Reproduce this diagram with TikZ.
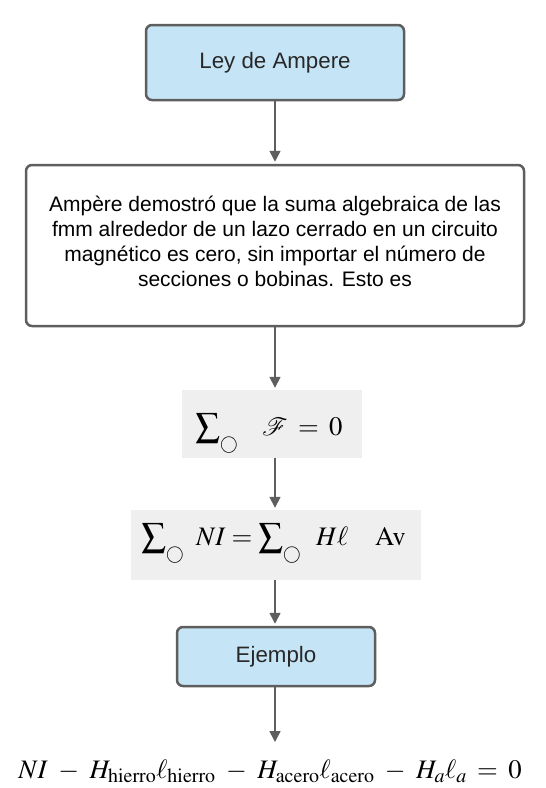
\documentclass[tikz,border=0pt]{standalone}
\usepackage{graphicx}
\usepackage{mathptmx}
\usepackage{mathrsfs}
\usepackage[no-math]{fontspec}
\setmainfont{Liberation Sans}
\usetikzlibrary{arrows.meta}
\DeclareMathSizes{26.7}{26.7}{20}{15}
\newcommand{\finops}{\medmuskip=7mu\relax\thickmuskip=7mu\relax}
\newcommand{\fone}{\thickmuskip=7mu\relax}
\newcommand{\ftwo}{\thickmuskip=4mu\relax}
\newcommand{\circsum}{\mathop{\vcenter{\hbox{\scalebox{1.3}{$\textstyle\sum$}}}}\nolimits_{\raisebox{-5pt}{\scalebox{0.66}{$\bigcirc$}}}}
\definecolor{boxblue}{RGB}{197,228,246}
\definecolor{edgegray}{RGB}{94,94,94}
\definecolor{eqgray}{RGB}{239,239,239}
\definecolor{txtdark}{RGB}{40,40,40}
\begin{document}
\begin{tikzpicture}[x=1pt,y=-1pt,
  bluebox/.style={draw=edgegray, line width=2.5pt, rounded corners=6pt, fill=boxblue,
    text=txtdark, font=\fontsize{22.3}{25}\selectfont, align=center},
  whitebox/.style={draw=edgegray, line width=2.5pt, rounded corners=6pt, fill=white},
  bodytext/.style={text=black, font=\fontsize{21}{25}\selectfont, align=center, inner sep=0pt},
  eqbox/.style={fill=eqgray, inner sep=0pt},
  eqfont/.style={font=\fontsize{26.7}{30}\selectfont, inner sep=0pt, anchor=base},
  flow/.style={draw=edgegray, line width=1.6pt, -{Triangle[length=11pt,width=11pt]}, shorten >=2pt}
]
\useasboundingbox (0,0) rectangle (546,788);
\node[bluebox, minimum width=258pt, minimum height=75pt] (ley) at (275,62.5) {Ley de Ampere};
\node[whitebox, minimum width=498pt, minimum height=161pt] (txt) at (275,245.5) {};
\node[bodytext] (txtbody) at (275,241)
  {Ampère demostró que la suma algebraica de las\\ fmm alrededor de un lazo cerrado en un circuito\\ magnético es cero, sin importar el número de\\ secciones o bobinas. Esto es};
\node[eqbox, minimum width=180pt, minimum height=68pt] (f1box) at (271.5,424) {};
\node[eqfont] (f1) at (269,435) {$\fone\circsum\;\;\mathscr{F}=0$};
\node[eqbox, minimum width=290pt, minimum height=70pt] (f2box) at (276,545) {};
\node[eqfont] (f2) at (273.5,545) {$\ftwo\circsum\;\,NI=\circsum\;\;H\ell\quad\mathrm{Av}$};
\node[bluebox, minimum width=198pt, minimum height=59pt] (ej) at (276,656.5) {Ejemplo};
\node[eqfont] (fin) at (270,778)
  {$\finops NI - H_{\mathrm{hierro}}\ell_{\mathrm{hierro}} - H_{\mathrm{acero}}\ell_{\mathrm{acero}} - H_a\ell_a = 0$};
\coordinate (finin) at (275,744);
\draw[flow] (ley.south -| 275,0) -- (txt.north -| 275,0);
\draw[flow] (txt.south -| 275,0) -- (f1box.north -| 275,0);
\draw[flow] (f1box.south -| 275,0) -- (f2box.north -| 275,0);
\draw[flow] (f2box.south -| 275,0) -- (ej.north -| 275,0);
\draw[flow] (ej.south -| 275,0) -- (finin);
\end{tikzpicture}
\end{document}
